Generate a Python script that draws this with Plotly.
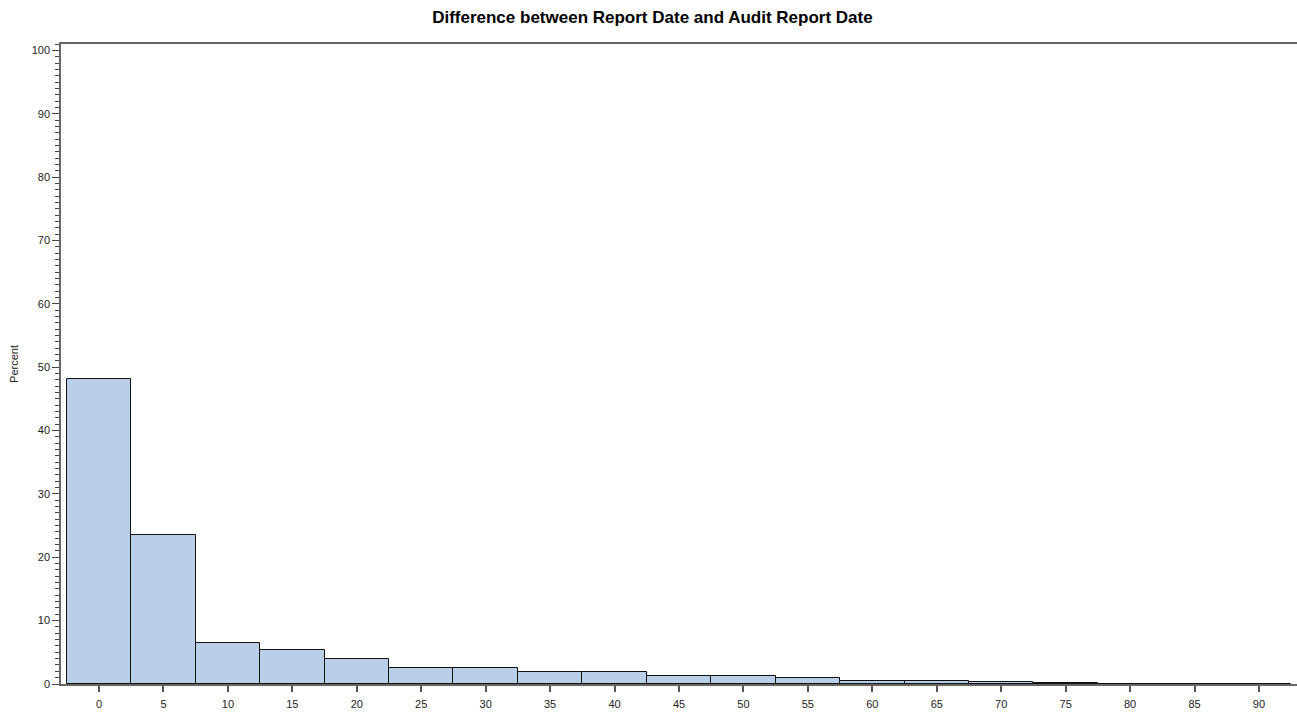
import plotly.graph_objects as go

bin_centers = [0, 5, 10, 15, 20, 25, 30, 35, 40, 45, 50, 55, 60, 65, 70, 75, 80, 85, 90]
percent = [48.1, 23.5, 6.4, 5.3, 3.9, 2.6, 2.5, 1.95, 1.95, 1.3, 1.3, 1.0, 0.45, 0.45, 0.25, 0.12, 0, 0, 0]
tick_vals = list(range(0, 95, 5))

fig = go.Figure()
fig.add_trace(go.Bar(
    x=bin_centers, y=percent, width=5,
    marker=dict(color="#b8cfe7", line=dict(color="#111111", width=1)),
    hoverinfo="x+y",
))

font_family = "Arial, Liberation Sans, sans-serif"
fig.update_layout(
    width=1297, height=713,
    margin=dict(l=61, r=0, t=44, b=29),
    paper_bgcolor="white", plot_bgcolor="white",
    showlegend=False,
    bargap=0,
    font=dict(family=font_family, size=11, color="#222"),
    title=dict(text="<b>Difference between Report Date and Audit Report Date</b>",
               x=0.503, xref="container", xanchor="center",
               y=0.976, yref="container", yanchor="middle",
               font=dict(family=font_family, size=17, color="black")),
)
fig.update_xaxes(
    range=[-2.95, 92.95], tickvals=tick_vals, ticks="outside", ticklen=6,
    tickcolor="#555", tickwidth=1.5, ticklabelstandoff=3,
    showline=True, linecolor="#666", linewidth=1.5, mirror=True,
    showgrid=False, zeroline=False,
    tickfont=dict(size=11, color="#222"),
)
fig.update_yaxes(
    range=[0, 101], dtick=10, tick0=0, ticks="outside", ticklen=7,
    tickcolor="#444", tickwidth=1.3,
    minor=dict(dtick=1, ticks="outside", ticklen=4, tickcolor="#444", tickwidth=1.2, showgrid=False),
    showline=True, linecolor="#666", linewidth=1.5,
    showgrid=False, zeroline=False,
    tickfont=dict(size=11, color="#222"),
    title=dict(text="Percent", font=dict(size=11, color="#222"), standoff=11),
)

fig.write_html("out.html", config={"displayModeBar": False},
               post_script="document.body.style.margin='0';document.body.style.overflow='hidden';")
